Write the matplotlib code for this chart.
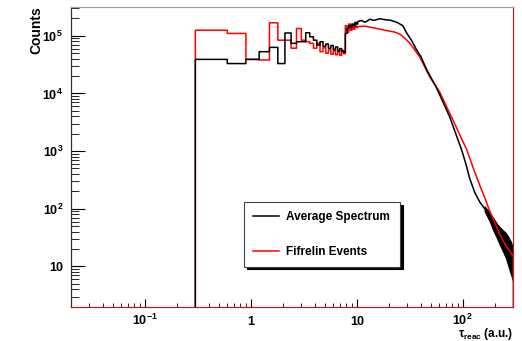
import numpy as np
import matplotlib
matplotlib.use('Agg')
import matplotlib.pyplot as plt
from matplotlib.lines import Line2D
from matplotlib.ticker import LogLocator, NullFormatter

plt.rcParams['font.family'] = ['Liberation Sans', 'DejaVu Sans']
plt.rcParams['font.weight'] = 'bold'
plt.rcParams['axes.labelweight'] = 'bold'
plt.rcParams['mathtext.fontset'] = 'custom'
plt.rcParams['mathtext.rm'] = 'Liberation Sans:bold'
plt.rcParams['mathtext.it'] = 'Liberation Sans:bold'
plt.rcParams['mathtext.bf'] = 'Liberation Sans:bold'

# histogram bins of width 0.3 (low tau part)
bin_edges = np.round(0.3 * np.arange(1, 35), 1)   # 0.3 ... 10.2
avg_bins = [3.9e4, 3.3e4, 3.9e4, 5.3e4, 6.3e4, 3.3e4, 1.12e5, 7.4e4, 7.9e4, 7.9e4,
            1.13e5, 9.6e4, 8.4e4, 6.9e4, 7.9e4, 6.6e4, 7.2e4, 6.1e4, 6.8e4, 5.8e4,
            6.4e4, 5.5e4, 6.0e4, 5.4e4, 5.2e4, 1.1e5, 1.35e5, 1.5e5, 1.4e5, 1.6e5,
            1.5e5, 1.7e5, 1.6e5]
fif_bins = [1.25e5, 1.1e5, 3.9e4, 3.8e4, 1.68e5, 8.4e4, 8.4e4, 6.1e4, 1.34e5, 8.4e4,
            7.9e4, 7.4e4, 6.1e4, 7.4e4, 5.3e4, 6.2e4, 5.0e4, 5.7e4, 4.8e4, 5.5e4,
            4.7e4, 5.3e4, 4.6e4, 5.6e4, 4.9e4, 1.5e5, 1.15e5, 1.6e5, 1.25e5, 1.45e5,
            1.3e5, 1.5e5, 1.4e5]

# finely binned part, read as a curve
avg_tau = [10.2, 11, 12, 13.3, 14.5, 16.5, 18.5, 20.5, 23.8, 27.2, 29.3, 33, 36.7,
           40.2, 45.6, 56.6, 75.4, 85.9, 97.9, 107, 116, 130, 145, 161]
avg_cnt = [1.75e5, 1.85e5, 1.72e5, 1.94e5, 1.85e5, 1.98e5, 1.9e5, 1.87e5, 1.72e5,
           1.5e5, 1.15e5, 8.2e4, 5.7e4, 4.4e4, 2.6e4, 1.25e4, 3.9e3, 2.0e3, 1.03e3,
           600, 340, 190, 130, 100]
fif_tau = [10.2, 11.9, 14.8, 18.4, 22.8, 25.5, 28.4, 31.6, 35.3, 39.3, 43.8, 48.8,
           60.7, 80.5, 109, 127, 145, 161, 180, 200, 223, 255, 300]
fif_cnt = [1.45e5, 1.47e5, 1.36e5, 1.25e5, 1.16e5, 1.07e5, 9.1e4, 7.5e4, 5.66e4,
           4.29e4, 2.88e4, 1.94e4, 1.05e4, 3.5e3, 1.06e3, 479, 253, 157, 90, 58,
           36, 23, 15]

# noisy tail of the average spectrum (envelope)
band_tau = [161, 180, 192, 210, 223, 240, 255, 270, 284, 300]
band_hi = [110, 85, 71, 55, 48, 42, 38, 32, 27, 20]
band_lo = [90, 60, 44, 31, 24, 18, 14, 10, 7.4, 5.4]

floor = 1.0


def step_path(edges, values):
    xs = [edges[0]]
    ys = [floor]
    for i, v in enumerate(values):
        xs += [edges[i], edges[i + 1]]
        ys += [v, v]
    return xs, ys


fig = plt.figure(figsize=(5.22, 3.41), dpi=100)
ax = fig.add_axes([0.1354, 0.1006, 0.848, 0.8798])
ax.set_xscale('log')
ax.set_yscale('log')

# Fifrelin events
xr, yr = step_path(bin_edges, fif_bins)
xr += fif_tau + [fif_tau[-1]]
yr += fif_cnt + [floor]
ax.plot(xr, yr, color='#ff0000', lw=1.1)

# Average spectrum
xb, yb = step_path(bin_edges, avg_bins)
xb += avg_tau
yb += avg_cnt
ax.plot(xb, yb, color='black', lw=1.1)
ax.fill_between(band_tau, band_lo, band_hi, color='black', lw=0.8)

ax.set_xlim(0.02, 300)
ax.set_ylim(2.0, 3.2e5)

ax.set_xticks([0.1, 1, 10, 100])
ax.set_xticklabels(['$10^{-1}$', '1', '10', '$10^{2}$'])
ax.set_yticks([10, 100, 1e3, 1e4, 1e5])
ax.set_yticklabels(['10', '$10^{2}$', '$10^{3}$', '$10^{4}$', '$10^{5}$'])
for axis in (ax.xaxis, ax.yaxis):
    axis.set_minor_locator(LogLocator(base=10, subs=np.arange(2, 10), numticks=30))
    axis.set_minor_formatter(NullFormatter())

ax.tick_params(which='both', direction='in', top=False, right=False)
ax.tick_params(axis='y', which='major', length=10, width=0.8, pad=5.5, labelsize=9)
ax.tick_params(axis='y', which='minor', length=5.5, width=0.6)
ax.tick_params(axis='x', which='major', length=5.8, width=0.8, pad=13.2, labelsize=9)
ax.tick_params(axis='x', which='minor', length=3.2, width=0.6)
plt.setp(ax.get_xticklabels(), va='baseline')

ax.spines['top'].set_color('#a0a0a0')
ax.spines['right'].set_color('#a52a2a')
ax.spines['bottom'].set_color('#b02020')
ax.spines['left'].set_color('#333333')
for s in ax.spines.values():
    s.set_linewidth(0.9)

ax.set_ylabel('Counts', fontsize=10, fontweight='bold', loc='top')
ax.yaxis.set_label_coords(-0.0626, 1.0)
ax.set_xlabel(r'$\tau_{reac}$ (a.u.)', fontsize=8.5, fontweight='bold', loc='right')
ax.xaxis.set_label_coords(1.0, -0.066)

handles = [Line2D([], [], color='black', lw=1.1), Line2D([], [], color='#ff0000', lw=1.1)]
leg = ax.legend(handles, ['Average Spectrum', 'Fifrelin Events'], loc='upper left',
                bbox_to_anchor=(0.392, 0.1247, 0.352, 0.223), mode='expand',
                borderaxespad=0, fontsize=8.5, labelspacing=1.9, handlelength=2.2,
                handletextpad=0.6, borderpad=0.75, fancybox=False,
                shadow={'color': 'black', 'alpha': 1}, framealpha=1,
                edgecolor='#444444')
leg.get_frame().set_linewidth(0.8)

fig.savefig('out.png', dpi=100)
